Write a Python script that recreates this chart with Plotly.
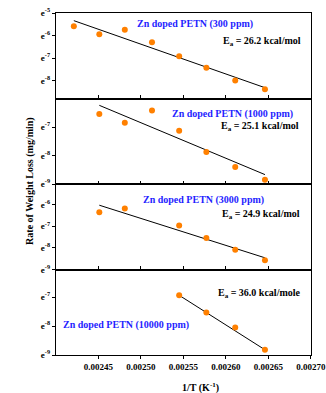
import plotly.graph_objects as go
from plotly.subplots import make_subplots

# ---- data (x = 1/T in K^-1, y = ln(rate in mg/min)) ----
x_all = [0.002421, 0.002451, 0.002481, 0.002513, 0.002545, 0.002577, 0.002611, 0.002646]

x_300 = x_all
y_300 = [-5.59, -5.95, -5.75, -6.30, -6.92, -7.43, -8.00, -8.39]
fit_x_300 = [0.002421, 0.002646]
fit_y_300 = [-5.34, -8.32]

x_1000 = x_all[1:]
y_1000 = [-6.54, -6.85, -6.42, -7.13, -7.88, -8.40, -8.85]
fit_x_1000 = [0.002451, 0.002646]
fit_y_1000 = [-6.24, -8.67]

x_3000 = [0.002451, 0.002481, 0.002545, 0.002577, 0.002611, 0.002646]
y_3000 = [-6.35, -6.18, -6.97, -7.55, -8.09, -8.57]
fit_x_3000 = [0.002451, 0.002646]
fit_y_3000 = [-6.03, -8.46]

x_10000 = [0.002545, 0.002577, 0.002611, 0.002646]
y_10000 = [-6.94, -7.53, -8.05, -8.82]
fit_x_10000 = [0.002545, 0.002646]
fit_y_10000 = [-6.94, -8.82]

labels = ["Zn doped PETN (300 ppm)", "Zn doped PETN (1000 ppm)",
          "Zn doped PETN (3000 ppm)", "Zn doped PETN (10000 ppm)"]
ea_labels = ["E<sub>a</sub> = 26.2 kcal/mol", "E<sub>a</sub> = 25.1 kcal/mol",
             "E<sub>a</sub> = 24.9 kcal/mol", "E<sub>a</sub> = 36.0 kcal/mole"]

y_ranges = [[-8.8, -5], [-9, -6], [-9, -5.05], [-9, -6.05]]
y_tickvals = [[-5, -6, -7, -8], [-7, -8, -9], [-6, -7, -8, -9], [-7, -8, -9]]
x_tickvals = [0.00245, 0.00250, 0.00255, 0.00260, 0.00265, 0.00270]
x_ticktext = ["0.00245", "0.00250", "0.00255", "0.00260", "0.00265", "0.00270"]

FONT = "Liberation Serif"
ORANGE = "#FF8000"
BLUE = "#1F1FFF"

fig = make_subplots(rows=4, cols=1, vertical_spacing=0)

series = [(x_300, y_300, fit_x_300, fit_y_300),
          (x_1000, y_1000, fit_x_1000, fit_y_1000),
          (x_3000, y_3000, fit_x_3000, fit_y_3000),
          (x_10000, y_10000, fit_x_10000, fit_y_10000)]

for i, (xs, ys, fx, fy) in enumerate(series):
    r = i + 1
    fig.add_trace(go.Scatter(x=fx, y=fy, mode="lines",
                             line=dict(color="black", width=1), showlegend=False),
                  row=r, col=1)
    fig.add_trace(go.Scatter(x=xs, y=ys, mode="markers",
                             marker=dict(color=ORANGE, size=6), showlegend=False),
                  row=r, col=1)
    last = (r == 4)
    fig.update_xaxes(range=[0.0024, 0.0027002], tickvals=x_tickvals,
                     ticktext=["<b>%s</b>" % t for t in x_ticktext],
                     showticklabels=last, automargin=False,
                     ticks="outside" if last else "inside", ticklen=3,
                     tickcolor="black", tickwidth=1,
                     showline=True, linecolor="black", linewidth=1.3, mirror=True,
                     showgrid=False, zeroline=False,
                     tickfont=dict(family=FONT, size=9, color="black"),
                     row=r, col=1)
    fig.update_yaxes(range=y_ranges[i], tickvals=y_tickvals[i],
                     ticktext=["<b>e<sup>%d</sup></b>" % v for v in y_tickvals[i]],
                     automargin=False,
                     ticks="outside", ticklen=3, tickcolor="black", tickwidth=1,
                     showline=True, linecolor="black", linewidth=1.3, mirror=True,
                     showgrid=False, zeroline=False,
                     tickfont=dict(family=FONT, size=9, color="black"),
                     row=r, col=1)

# equal domains with no gap
n = 4
for i in range(n):
    key = "yaxis" if i == 0 else "yaxis%d" % (i + 1)
    fig.layout[key].domain = [1 - (i + 1) / n, 1 - i / n]

ann = []
title_pos = [(0.545, 0.968), (0.694, 0.705), (0.578, 0.453), (0.276, 0.0877)]
ea_pos = [(0.969, 0.918), (0.961, 0.667), (0.965, 0.412), (0.969, 0.181)]
for i in range(4):
    ann.append(dict(x=title_pos[i][0], y=title_pos[i][1], xref="paper", yref="paper",
                    text="<b>%s</b>" % labels[i], showarrow=False,
                    xanchor="center", yanchor="middle",
                    font=dict(family=FONT, size=10, color=BLUE)))
    ann.append(dict(x=ea_pos[i][0], y=ea_pos[i][1], xref="paper", yref="paper",
                    text="<b>%s</b>" % ea_labels[i], showarrow=False,
                    xanchor="right", yanchor="middle",
                    font=dict(family=FONT, size=10, color="black")))

ann.append(dict(x=0.565, y=-0.0936, xref="paper", yref="paper",
                text="<b>1/T (K<sup>-1</sup>)</b>", showarrow=False,
                xanchor="center", yanchor="middle",
                font=dict(family=FONT, size=10, color="black")))
ann.append(dict(x=-0.102, y=0.509, xref="paper", yref="paper",
                text="<b>Rate of Weight Loss (mg/min)</b>", showarrow=False,
                textangle=-90, xanchor="center", yanchor="middle",
                font=dict(family=FONT, size=10, color="black")))

fig.update_layout(width=326, height=393,
                  margin=dict(l=56, r=15, t=13, b=38, autoexpand=False),
                  paper_bgcolor="white", plot_bgcolor="white",
                  annotations=ann, showlegend=False,
                  font=dict(family=FONT, color="black"))

fig.write_html("out.html")
